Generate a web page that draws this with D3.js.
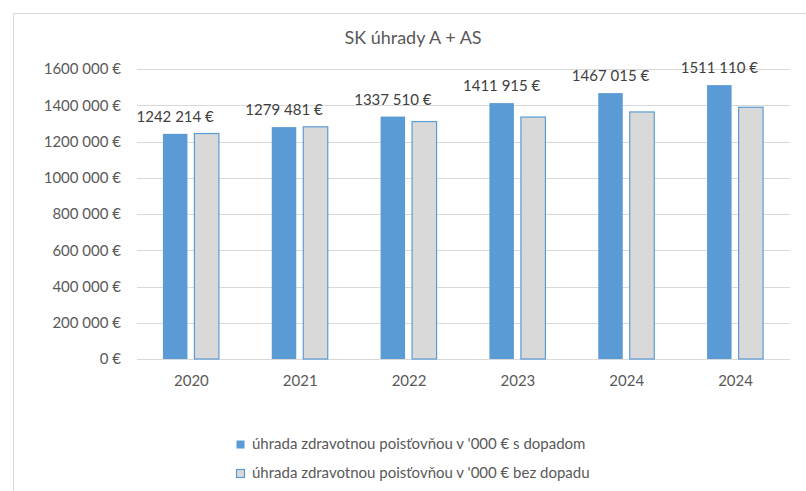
<!DOCTYPE html>
<html lang="sk">
<head>
    <meta charset="UTF-8">
    <title>SK úhrady A + AS</title>
    <script src="https://d3js.org/d3.v7.min.js"></script>
    <style>
        body {
            margin: 0;
            background: #fff;
            font-family: Lato, "Noto Sans", sans-serif;
        }
        .axis-text {
            fill: #595959;
            font-size: 15px;
        }
    </style>
</head>
<body>
    <div id="chart"></div>

    <script>
        // data
        const years = ["2020", "2021", "2022", "2023", "2024", "2024"];
        const sDopadom = [1242214, 1279481, 1337510, 1411915, 1467015, 1511110];
        const bezDopadu = [1244000, 1281000, 1310000, 1335000, 1363000, 1389000];
        const seriesNames = [
            "úhrada zdravotnou poisťovňou v '000 € s dopadom",
            "úhrada zdravotnou poisťovňou v '000 € bez dopadu"
        ];
        const yTicks = [0, 200000, 400000, 600000, 800000, 1000000, 1200000, 1400000, 1600000];

        const width = 806;
        const height = 491;
        const blue = "#5b9bd5";
        const grey = "#d9d9d9";

        // "1242 214 €" style
        function fmt(v) {
            if (v < 1000) return v + " €";
            const th = Math.floor(v / 1000);
            const rest = String(v % 1000).padStart(3, "0");
            return th + " " + rest + " €";
        }

        const svg = d3.select("#chart")
            .append("svg")
            .attr("width", width)
            .attr("height", height);

        // chart frame
        svg.append("path")
            .attr("d", `M13.5,${height} V13.5 H${width}`)
            .attr("fill", "none")
            .attr("stroke", "#d9d9d9")
            .attr("stroke-width", 1);

        svg.append("text")
            .attr("x", 413)
            .attr("y", 44)
            .attr("text-anchor", "middle")
            .attr("fill", "#595959")
            .style("font-size", "18px")
            .text("SK úhrady A + AS");

        const x = d3.scaleBand()
            .domain(d3.range(years.length))
            .range([137, 790])
            .padding(0);

        const y = d3.scaleLinear()
            .domain([0, 1600000])
            .range([359, 69]);

        const xSub = d3.scaleBand()
            .domain([0, 1])
            .range([-28.5, 27.5])
            .paddingInner(0.222);

        // gridlines
        svg.append("g")
            .selectAll("line")
            .data(yTicks)
            .join("line")
            .attr("x1", 137)
            .attr("x2", 790)
            .attr("y1", d => Math.round(y(d)) + 0.5)
            .attr("y2", d => Math.round(y(d)) + 0.5)
            .attr("stroke", "#d9d9d9")
            .attr("stroke-width", 1);

        // y labels
        svg.append("g")
            .selectAll("text")
            .data(yTicks)
            .join("text")
            .attr("class", "axis-text")
            .attr("x", 121)
            .attr("y", d => y(d))
            .attr("dy", "0.35em")
            .attr("text-anchor", "end")
            .text(d => fmt(d));

        // x labels
        svg.append("g")
            .selectAll("text")
            .data(years)
            .join("text")
            .attr("class", "axis-text")
            .attr("x", (d, i) => x(i) + x.bandwidth() / 2)
            .attr("y", 381)
            .attr("dy", "0.35em")
            .attr("text-anchor", "middle")
            .text(d => d);

        const cx = i => x(i) + x.bandwidth() / 2;

        // s dopadom
        svg.append("g")
            .selectAll("rect")
            .data(sDopadom)
            .join("rect")
            .attr("x", (d, i) => cx(i) + xSub(0))
            .attr("y", d => y(d))
            .attr("width", xSub.bandwidth())
            .attr("height", d => y(0) - y(d))
            .attr("fill", blue);

        // bez dopadu
        svg.append("g")
            .selectAll("rect")
            .data(bezDopadu)
            .join("rect")
            .attr("x", (d, i) => cx(i) + xSub(1))
            .attr("y", d => y(d))
            .attr("width", xSub.bandwidth())
            .attr("height", d => y(0) - y(d))
            .attr("fill", grey)
            .attr("stroke", blue)
            .attr("stroke-width", 1.2);

        // data labels
        svg.append("g")
            .selectAll("text")
            .data(sDopadom)
            .join("text")
            .attr("class", "axis-text")
            .attr("x", (d, i) => cx(i) + xSub(0) + xSub.bandwidth() / 2)
            .attr("y", d => y(d) - 17)
            .attr("dy", "0.35em")
            .attr("text-anchor", "middle")
            .style("fill", "#404040")
            .text(d => fmt(d));

        // legend
        const legend = svg.append("g");
        const items = legend.selectAll("g")
            .data(seriesNames)
            .join("g")
            .attr("transform", (d, i) => `translate(236, ${444 + i * 29})`);

        items.append("rect")
            .attr("x", 0.5)
            .attr("y", -3.5)
            .attr("width", 8)
            .attr("height", 8)
            .attr("fill", (d, i) => i === 0 ? blue : grey)
            .attr("stroke", (d, i) => i === 0 ? "none" : blue)
            .attr("stroke-width", 1.2);

        items.append("text")
            .attr("class", "axis-text")
            .attr("x", 16)
            .attr("y", 0)
            .attr("dy", "0.35em")
            .text(d => d);
    </script>
</body>
</html>
